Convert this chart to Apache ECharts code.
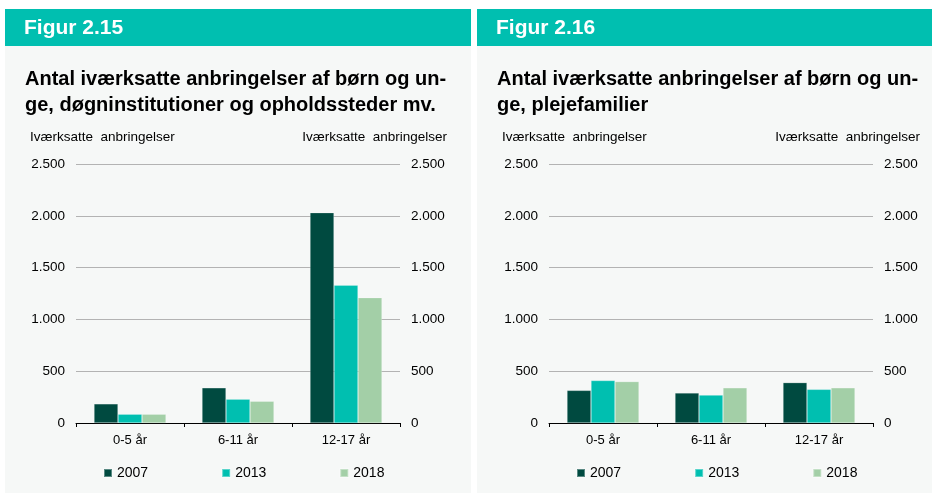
<!DOCTYPE html>
<html><head><meta charset="utf-8">
<script src="https://cdn.jsdelivr.net/npm/echarts@6/dist/echarts.min.js"></script>
<style>html,body{margin:0;padding:0;background:#fff}#c{width:932px;height:493px}</style>
</head><body><div id="c"></div>
<script>
const categories = ['0-5 år', '6-11 år', '12-17 år'];
const years = ['2007', '2013', '2018'];
// Figur 2.15: døgninstitutioner og opholdssteder mv.
const fig1_2007 = [185, 340, 2030];
const fig1_2013 = [85, 230, 1330];
const fig1_2018 = [85, 210, 1210];
// Figur 2.16: plejefamilier
const fig2_2007 = [315, 290, 390];
const fig2_2013 = [410, 270, 325];
const fig2_2018 = [400, 340, 340];
const yTicks = [0, 500, 1000, 1500, 2000, 2500];
const figTitles = ['Figur 2.15', 'Figur 2.16'];
const subTitles = ['Antal iværksatte anbringelser af børn og un-\nge, døgninstitutioner og opholdssteder mv.',
                   'Antal iværksatte anbringelser af børn og un-\nge, plejefamilier'];
const axisName = 'Iværksatte  anbringelser';

const colors = ['#004a40', '#00bfb0', '#a3cfa7'];
const FONT = 'Liberation Sans, Arial, Helvetica, sans-serif';
const fmt = v => String(v).replace(/\B(?=(\d{3})+(?!\d))/g, '.');

const chart = echarts.init(document.getElementById('c'), null, {renderer: 'canvas'});

const grids = [
  {left: 76, right: 532, top: 164, bottom: 70},
  {left: 549, right: 59, top: 164, bottom: 70}
];
const panels = [{x: 5, w: 466}, {x: 477, w: 455}];

const xAxes = [], yAxes = [], series = [], legends = [], graphics = [];
const data = [[fig1_2007, fig1_2013, fig1_2018], [fig2_2007, fig2_2013, fig2_2018]];

grids.forEach((g, i) => {
  xAxes.push({
    type: 'category', gridIndex: i, data: categories,
    axisLine: {lineStyle: {color: '#000', width: 1}},
    axisTick: {show: true, length: 4, lineStyle: {color: '#000'}},
    axisLabel: {color: '#000', fontSize: 13, fontFamily: FONT, margin: 11}
  });
  const yBase = {
    type: 'value', gridIndex: i, min: yTicks[0], max: yTicks[yTicks.length - 1], interval: 500,
    axisLine: {show: false}, axisTick: {show: false}
  };
  yAxes.push(Object.assign({}, yBase, {
    position: 'left',
    splitLine: {show: true, lineStyle: {color: '#b3b3b3', width: 1}},
    axisLabel: {color: '#000', fontSize: 13.5, fontFamily: FONT, margin: 11, formatter: fmt}
  }));
  yAxes.push(Object.assign({}, yBase, {
    position: 'right',
    splitLine: {show: false},
    axisLabel: {color: '#000', fontSize: 13.5, fontFamily: FONT, margin: 11, formatter: fmt}
  }));
  years.forEach((y, k) => {
    series.push({
      type: 'bar', name: y, xAxisIndex: i, yAxisIndex: i * 2,
      data: data[i][k], barWidth: 24, barGap: '0%',
      itemStyle: {color: colors[k], borderColor: 'rgba(255,255,255,0.35)', borderWidth: 0.6},
      emphasis: {disabled: true}, animation: false
    });
  });
  legends.push({
    data: years, left: g.left + 22, top: 461, itemWidth: 8, itemHeight: 8, itemGap: 73,
    icon: 'rect', textStyle: {color: '#000', fontSize: 14, fontFamily: FONT},
    selectedMode: false
  });
  const p = panels[i];
  graphics.push({type: 'rect', shape: {x: p.x, y: 46, width: p.w, height: 447}, style: {fill: '#f6f8f7'}, silent: true, z: -10});
  graphics.push({type: 'rect', shape: {x: p.x, y: 9, width: p.w, height: 37}, style: {fill: '#00bfb0'}, silent: true, z: -10});
  graphics.push({type: 'text', left: p.x + 19, top: 18, style: {text: figTitles[i], fill: '#fff', font: 'bold 21px ' + FONT}, silent: true});
  graphics.push({type: 'text', left: p.x + 20, top: 66, style: {text: subTitles[i], fill: '#000', font: 'bold 20px ' + FONT, lineHeight: 26}, silent: true});
  graphics.push({type: 'text', left: p.x + 25, top: 130, style: {text: axisName, fill: '#000', font: '13.5px ' + FONT}, silent: true});
  graphics.push({type: 'text', right: 932 - (g.left + 324 + 47), top: 130, style: {text: axisName, fill: '#000', font: '13.5px ' + FONT, textAlign: 'right'}, silent: true});
});

chart.setOption({
  animation: false,
  backgroundColor: '#fff',
  color: colors,
  grid: grids,
  xAxis: xAxes,
  yAxis: yAxes,
  series: series,
  legend: legends,
  graphic: graphics
});
</script></body></html>
